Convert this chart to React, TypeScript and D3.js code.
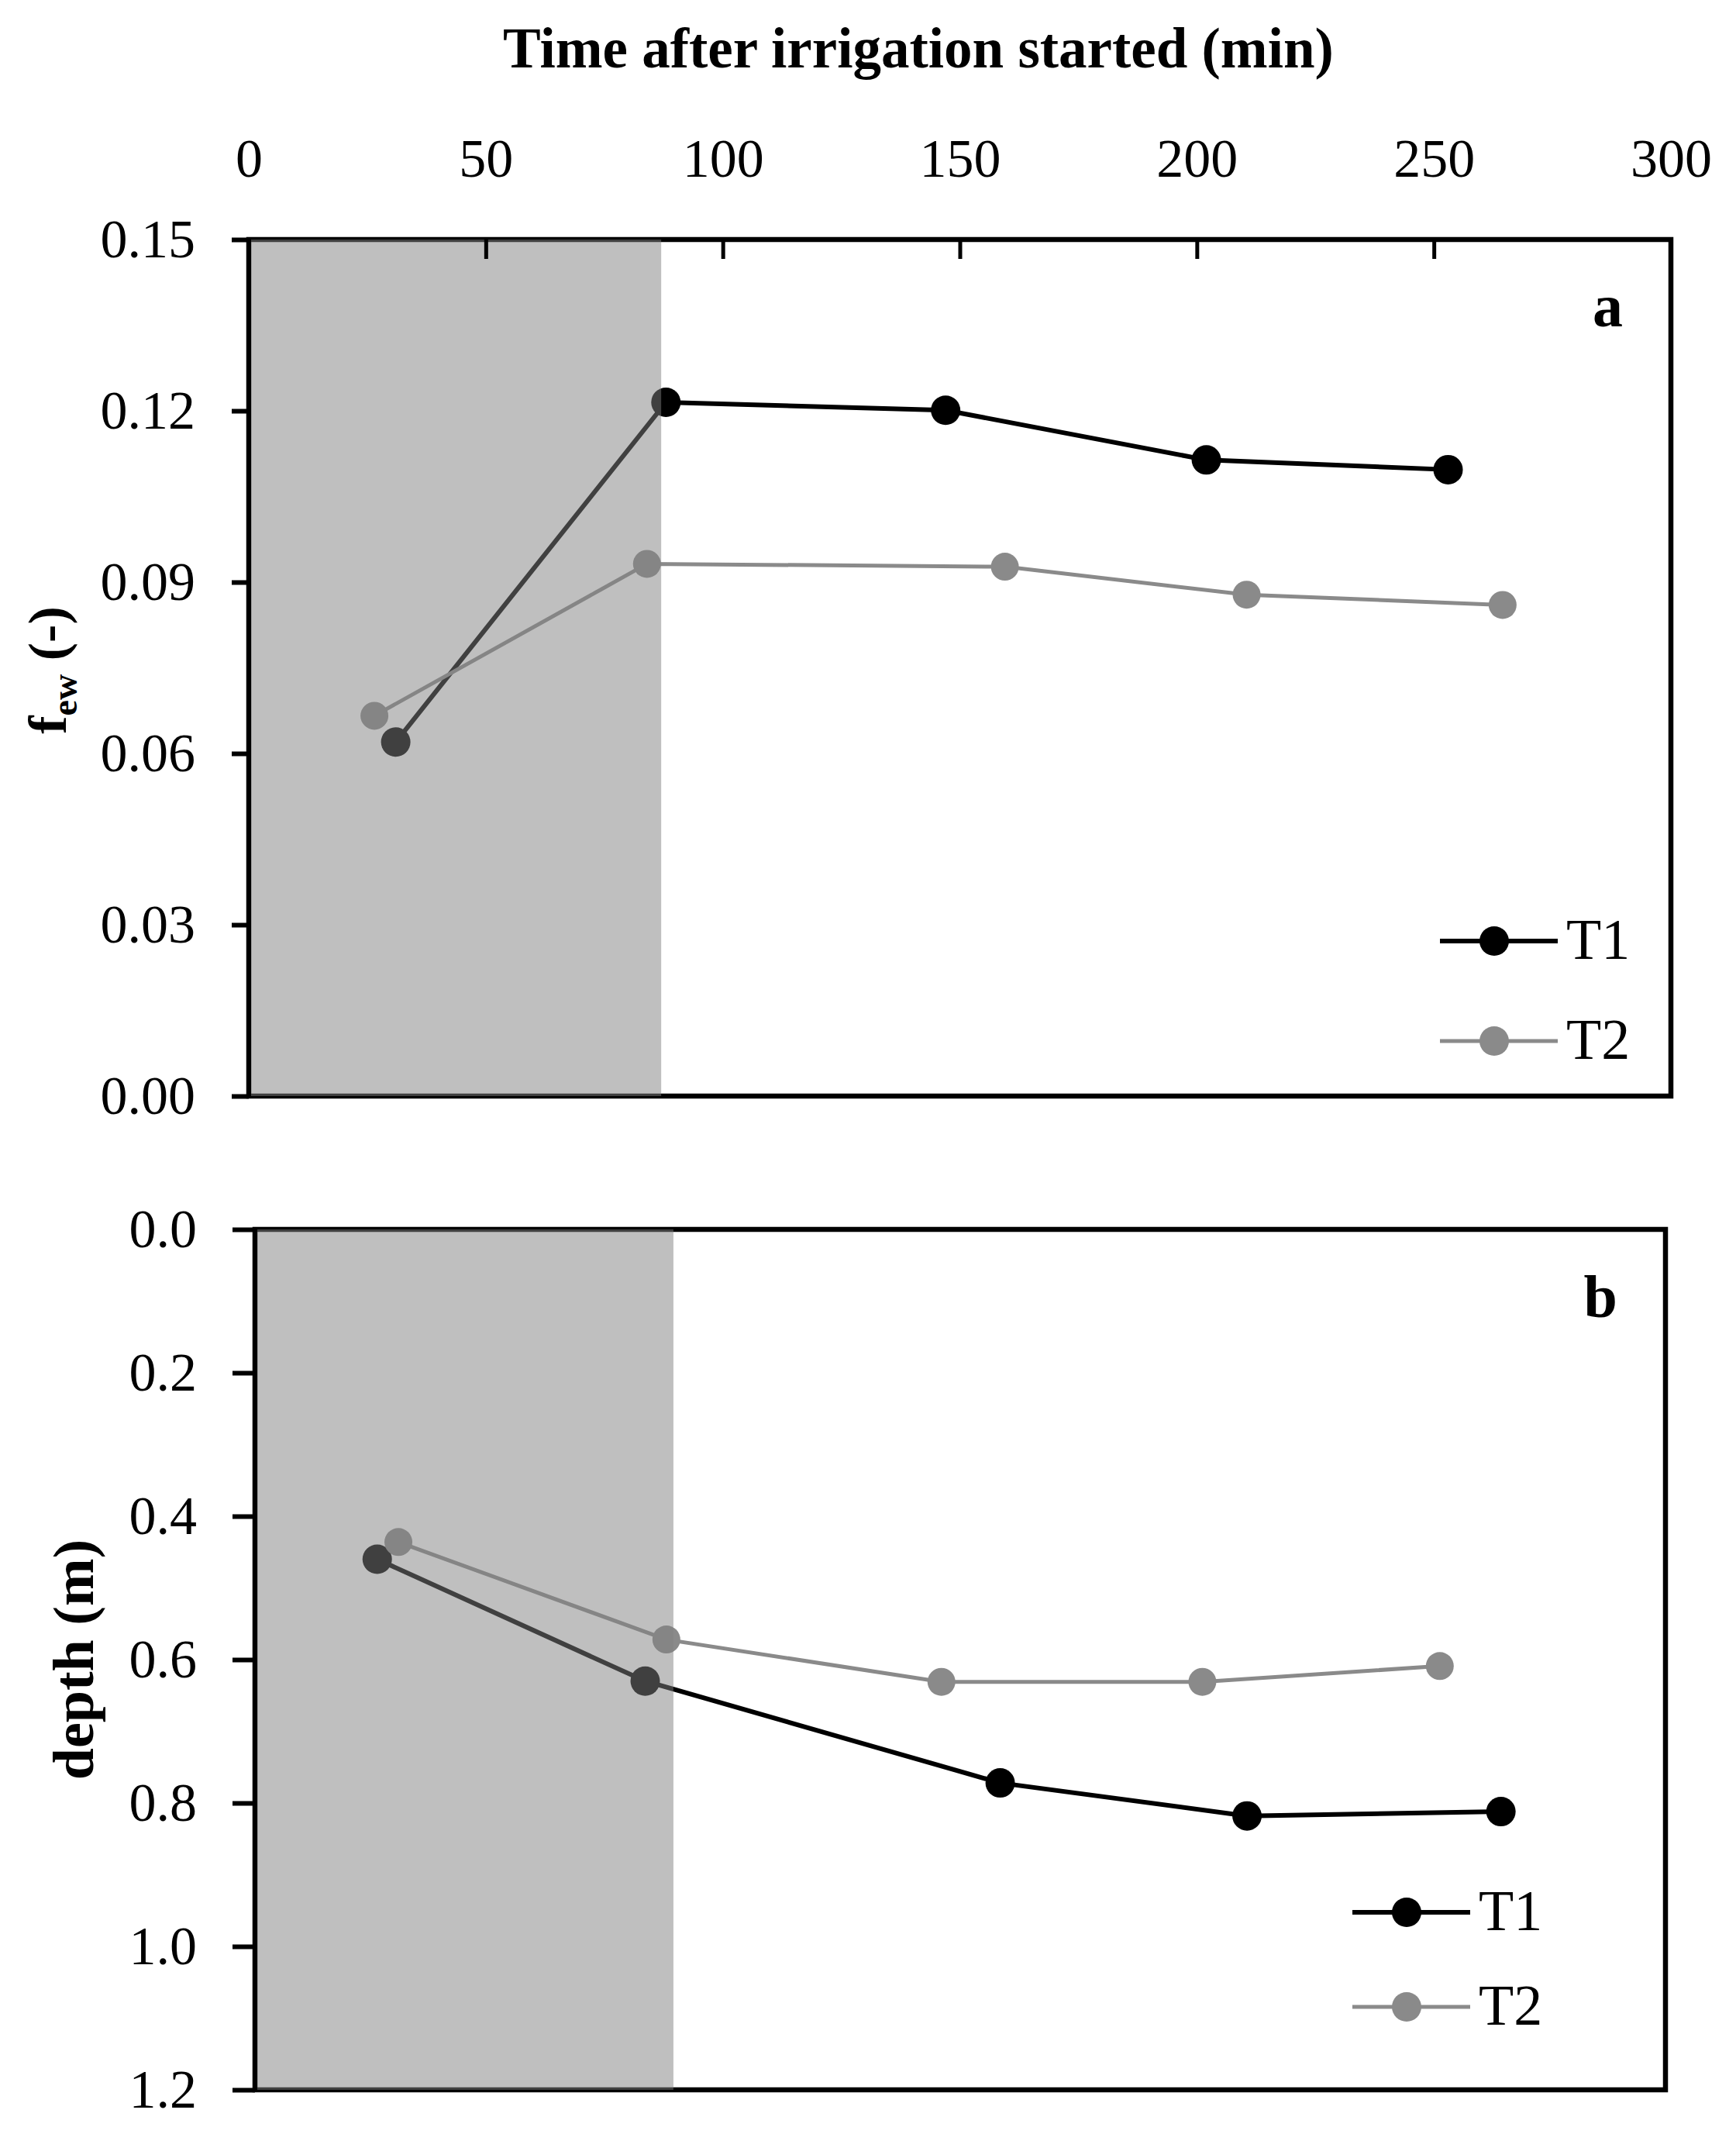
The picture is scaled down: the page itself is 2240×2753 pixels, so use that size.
import * as d3 from 'd3';
import React, { useEffect, RefObject } from 'react';

// panel a: fraction f_ew over time
const timeA_T1 = [31, 88, 147, 202, 253];
const fewT1 = [0.062, 0.1215, 0.1201, 0.1114, 0.1097];
const timeA_T2 = [26.5, 84, 159.5, 210.5, 264.5];
const fewT2 = [0.0666, 0.0932, 0.0927, 0.0878, 0.086];

// panel b: depth over time
const timeB_T1 = [26, 83, 158.5, 211, 265];
const depthT1 = [0.46, 0.63, 0.772, 0.818, 0.812];
const timeB_T2 = [30.5, 87.5, 146, 201.5, 252];
const depthT2 = [0.436, 0.572, 0.631, 0.631, 0.609];

const xTicks = [0, 50, 100, 150, 200, 250, 300];
const fewTicks = [0, 0.03, 0.06, 0.09, 0.12, 0.15];
const depthTicks = [0, 0.2, 0.4, 0.6, 0.8, 1.0, 1.2];
const seriesNames = ['T1', 'T2'];
const irrigationEnd = [87, 89]; // shaded period per panel (min)

const W = 2240;
const H = 2753;
const FONT = '"Liberation Serif", "Times New Roman", serif';
const colors = ['#000000', '#8a8a8a'];

function App() {
    const ref: RefObject<HTMLDivElement> = React.createRef();

    useEffect(() => {
        draw();
    });

    const draw = () => {
        d3.select(ref.current).selectAll('svg').remove();

        const svg = d3.select(ref.current)
            .append('svg')
            .attr('width', W)
            .attr('height', H)
            .style('background', '#fff');

        const xA = d3.scaleLinear().domain([0, 300]).range([321, 2156]);
        const yA = d3.scaleLinear().domain([0, 0.15]).range([1414, 309]);
        const xB = d3.scaleLinear().domain([0, 300]).range([329, 2149]);
        const yB = d3.scaleLinear().domain([0, 1.2]).range([1586, 2696]);

        // title
        svg.append('text')
            .attr('x', 1185)
            .attr('y', 87)
            .attr('text-anchor', 'middle')
            .style('font-family', FONT)
            .style('font-weight', 'bold')
            .style('font-size', '73px')
            .text('Time after irrigation started (min)');

        const panel = (
            x: d3.ScaleLinear<number, number>,
            y: d3.ScaleLinear<number, number>,
            yTicks: number[],
            fmt: string,
            tickLen: number,
            pad: number,
            series: { t: number[]; v: number[] }[],
            shadeEnd: number,
            letter: string,
            letterY: number,
            legendX: number,
            legendY: number[],
        ) => {
            const g = svg.append('g');
            const [x0, x1] = x.range();
            const top = Math.min(...y.range());
            const bottom = Math.max(...y.range());

            // y axis ticks + labels
            const yAxis = d3.axisLeft(y)
                .tickValues(yTicks)
                .tickSize(tickLen)
                .tickPadding(pad)
                .tickFormat(d3.format(fmt) as any);
            const ya = g.append('g')
                .attr('transform', `translate(${x0},0)`)
                .call(yAxis);
            ya.select('.domain').remove();
            ya.selectAll('line').attr('stroke', '#000').attr('stroke-width', 6);
            ya.selectAll('text')
                .style('font-family', FONT)
                .style('font-size', '70px')
                .attr('fill', '#000');

            // lines + markers
            series.forEach((s, i) => {
                const pts = s.t.map((t, k) => [t, s.v[k]] as [number, number]);
                const line = d3.line<[number, number]>()
                    .x(d => x(d[0]))
                    .y(d => y(d[1]));
                g.append('path')
                    .datum(pts)
                    .attr('d', line)
                    .attr('fill', 'none')
                    .attr('stroke', colors[i])
                    .attr('stroke-width', i === 0 ? 6 : 5);
                g.selectAll(null)
                    .data(pts)
                    .enter()
                    .append('circle')
                    .attr('cx', d => x(d[0]))
                    .attr('cy', d => y(d[1]))
                    .attr('r', i === 0 ? 19 : 18)
                    .attr('fill', colors[i]);
            });

            // frame
            g.append('rect')
                .attr('x', x0)
                .attr('y', top)
                .attr('width', x1 - x0)
                .attr('height', bottom - top)
                .attr('fill', 'none')
                .attr('stroke', '#000')
                .attr('stroke-width', 6.5);

            // irrigation period (semi transparent on top)
            g.append('rect')
                .attr('x', x0 + 3)
                .attr('y', top)
                .attr('width', x(shadeEnd) - x0 - 3)
                .attr('height', bottom - top)
                .attr('fill', '#808080')
                .attr('opacity', 0.5);

            // panel letter
            g.append('text')
                .attr('x', x1 - 62)
                .attr('y', letterY)
                .attr('text-anchor', 'end')
                .style('font-family', FONT)
                .style('font-weight', 'bold')
                .style('font-size', '78px')
                .text(letter);

            // legend
            seriesNames.forEach((name, i) => {
                const ly = legendY[i];
                g.append('line')
                    .attr('x1', legendX)
                    .attr('x2', legendX + 152)
                    .attr('y1', ly)
                    .attr('y2', ly)
                    .attr('stroke', colors[i])
                    .attr('stroke-width', i === 0 ? 6 : 5);
                g.append('circle')
                    .attr('cx', legendX + 70)
                    .attr('cy', ly)
                    .attr('r', 19)
                    .attr('fill', colors[i]);
                g.append('text')
                    .attr('x', legendX + 163)
                    .attr('y', ly + 23)
                    .style('font-family', FONT)
                    .style('font-size', '74px')
                    .text(name);
            });
            return g;
        };

        const ga = panel(xA, yA, fewTicks, '.2f', 22, 47,
            [{ t: timeA_T1, v: fewT1 }, { t: timeA_T2, v: fewT2 }],
            irrigationEnd[0], 'a', 421, 1858, [1214, 1343]);

        panel(xB, yB, depthTicks, '.1f', 29, 46,
            [{ t: timeB_T1, v: depthT1 }, { t: timeB_T2, v: depthT2 }],
            irrigationEnd[1], 'b', 1699, 1745, [2467, 2589]);

        // top x axis of panel a: ticks inward, labels above
        const xAxis = d3.axisTop(xA)
            .tickValues(xTicks)
            .tickSize(-25)
            .tickPadding(81)
            .tickFormat(d3.format('d') as any);
        const xa = ga.append('g')
            .attr('transform', `translate(0,${yA(0.15)})`)
            .call(xAxis);
        xa.select('.domain').remove();
        xa.selectAll('line').attr('stroke', '#000').attr('stroke-width', 5);
        xa.selectAll('.tick')
            .filter((d: any) => d === 0 || d === 300)
            .select('line').remove();
        xa.selectAll('text')
            .style('font-family', FONT)
            .style('font-size', '70px')
            .attr('fill', '#000');

        // y labels
        const fl = svg.append('text')
            .attr('transform', `translate(85,${yA(0.075) + 3}) rotate(-90)`)
            .attr('text-anchor', 'middle')
            .style('font-family', FONT)
            .style('font-weight', 'bold')
            .style('font-size', '70px');
        fl.append('tspan').text('f');
        fl.append('tspan').attr('dy', 14).style('font-size', '46px').text('ew');
        fl.append('tspan').attr('dy', -14).text(' (-)');

        svg.append('text')
            .attr('transform', `translate(120,${yB(0.6)}) rotate(-90)`)
            .attr('text-anchor', 'middle')
            .style('font-family', FONT)
            .style('font-weight', 'bold')
            .style('font-size', '74px')
            .text('depth (m)');
    };

    return (
        <div style={{ position: 'absolute', left: 0, top: 0 }} ref={ref}>
        </div>
    );
}

export default App;
